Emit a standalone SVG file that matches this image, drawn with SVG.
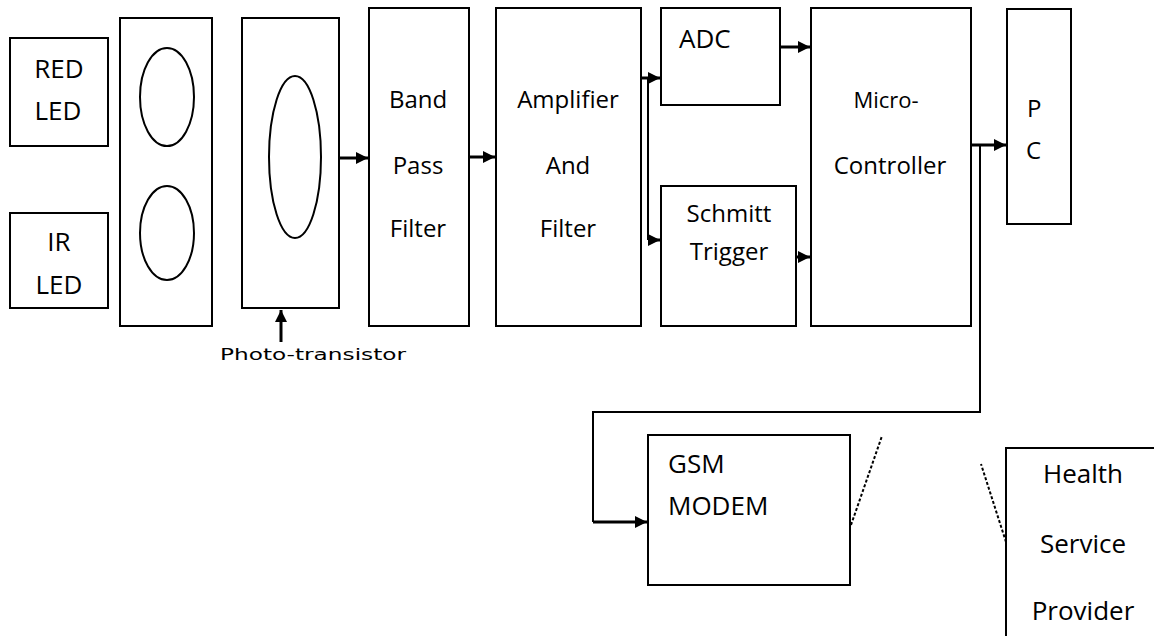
<svg xmlns="http://www.w3.org/2000/svg" width="1154" height="636" viewBox="0 0 1154 636">
<style>
.box{fill:#fff;stroke:#000;stroke-width:2}
.ell{fill:none;stroke:#000;stroke-width:2}
.t{font-family:"Open Sans","Liberation Sans",sans-serif;font-size:24px;fill:#000}
.l{font-size:26px}
.m{text-anchor:middle}
.c{fill:none;stroke:#000;stroke-width:3}
.thin{fill:none;stroke:#000;stroke-width:2}
.dash{fill:none;stroke:#000;stroke-width:2;stroke-dasharray:3 2}
</style>
<defs>
<marker id="ah" viewBox="0 0 10 10" refX="10" refY="5" markerWidth="4" markerHeight="4" markerUnits="strokeWidth" orient="auto">
<path d="M0,0 L10,5 L0,10 z" fill="#000"/>
</marker>
</defs>
<rect width="1154" height="636" fill="#fff"/>
<g id="red-led"><rect class="box" x="10" y="38" width="98" height="108"/>
<text class="t l m" x="59" y="78">RED</text><text class="t l m" x="58" y="120">LED</text></g>
<g id="ir-led"><rect class="box" x="10" y="213" width="98" height="95"/>
<text class="t l m" x="59" y="251">IR</text><text class="t l m" x="59" y="294">LED</text></g>
<g id="led-panel"><rect class="box" x="120" y="18" width="92" height="308"/>
<ellipse class="ell" cx="167" cy="97" rx="27" ry="49"/>
<ellipse class="ell" cx="167" cy="233" rx="27" ry="47"/></g>
<g id="photo-transistor"><rect class="box" x="242" y="18" width="97" height="290"/>
<ellipse class="ell" cx="295" cy="157" rx="26" ry="81"/>
<text x="220" y="360" style="font-family:'DejaVu Sans',sans-serif;font-size:15px" textLength="186" lengthAdjust="spacingAndGlyphs">Photo-transistor</text></g>
<g id="band-pass"><rect class="box" x="369" y="8" width="100" height="318"/>
<text class="t m" x="418" y="108">Band</text><text class="t m" x="418" y="174">Pass</text><text class="t m" x="418" y="237">Filter</text></g>
<g id="amplifier"><rect class="box" x="496" y="8" width="145" height="318"/>
<text class="t m" x="568" y="108">Amplifier</text><text class="t m" x="568" y="174">And</text><text class="t m" x="568" y="237">Filter</text></g>
<g id="adc"><rect class="box" x="661" y="8" width="119" height="97"/>
<text class="t l" x="679" y="48">ADC</text></g>
<g id="schmitt"><rect class="box" x="661" y="186" width="135" height="140"/>
<text class="t m" x="729" y="222">Schmitt</text><text class="t m" x="729" y="260">Trigger</text></g>
<g id="micro"><rect class="box" x="811" y="8" width="160" height="318"/>
<text class="t m" x="886" y="108" style="font-size:22px">Micro-</text><text class="t m" x="890" y="174">Controller</text></g>
<g id="pc"><rect class="box" x="1007" y="9" width="64" height="215"/>
<text class="t" x="1027" y="117">P</text><text class="t" x="1026" y="159">C</text></g>
<g id="gsm"><rect class="box" x="648" y="435" width="202" height="150"/>
<text class="t l" x="668" y="473">GSM</text><text class="t l" x="668" y="515">MODEM</text></g>
<g id="health"><rect class="box" x="1006" y="448" width="160" height="200"/>
<text class="t l m" x="1083" y="483">Health</text><text class="t l m" x="1083" y="553">Service</text><text class="t l m" x="1083" y="620">Provider</text></g>
<g id="connectors">
<line class="c" x1="339" y1="158" x2="368" y2="158" marker-end="url(#ah)"/>
<line class="c" x1="469" y1="157" x2="495" y2="157" marker-end="url(#ah)"/>
<line class="c" x1="281" y1="342" x2="281" y2="310" marker-end="url(#ah)"/>
<line class="c" x1="641" y1="78" x2="660" y2="78" marker-end="url(#ah)"/>
<line class="thin" x1="648" y1="78" x2="648" y2="240"/>
<line class="c" x1="648" y1="240" x2="660" y2="240" marker-end="url(#ah)"/>
<line class="c" x1="780" y1="47" x2="810" y2="47" marker-end="url(#ah)"/>
<line class="c" x1="796" y1="257" x2="810" y2="257" marker-end="url(#ah)"/>
<line class="c" x1="971" y1="145" x2="1006" y2="145" marker-end="url(#ah)"/>
<polyline class="thin" points="980,145 980,412 593,412 593,522"/>
<line class="c" x1="593" y1="522" x2="647" y2="522" marker-end="url(#ah)"/>
<line class="dash" x1="851" y1="525" x2="882" y2="436"/>
<line class="dash" x1="1006" y1="542" x2="981" y2="464"/>
</g>
</svg>
